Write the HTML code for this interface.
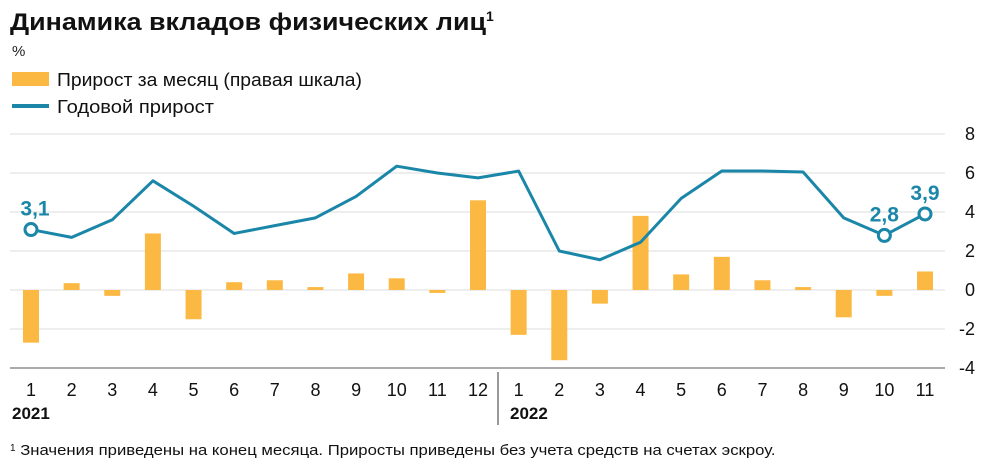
<!DOCTYPE html>
<html><head><meta charset="utf-8"><style>
body{margin:0;background:#fff;font-family:"Liberation Sans",sans-serif;}
svg text{font-family:"Liberation Sans",sans-serif;}
</style></head><body>
<svg width="995" height="463" xmlns="http://www.w3.org/2000/svg">
<text x="10" y="30" font-size="24" font-weight="bold" fill="#111"><tspan textLength="476" lengthAdjust="spacingAndGlyphs">Динамика вкладов физических лиц</tspan><tspan font-size="14" dy="-9">1</tspan></text>
<text x="12" y="56" font-size="15" fill="#222">%</text>
<rect x="12" y="72" width="37" height="14" fill="#fbb943"/>
<text x="57" y="86" font-size="18" fill="#111" textLength="305" lengthAdjust="spacingAndGlyphs">Прирост за месяц (правая шкала)</text>
<rect x="12" y="104" width="37" height="4" fill="#1a86a8"/>
<text x="57" y="113" font-size="18" fill="#111" textLength="157" lengthAdjust="spacingAndGlyphs">Годовой прирост</text>
<g id="grid"></g><g id="bars"></g><g id="line"></g><g id="xaxis"></g>
<line x1="498" y1="372" x2="498" y2="425" stroke="#333" stroke-width="1"/>
<text x="12" y="419" font-size="17" font-weight="bold" fill="#111">2021</text>
<text x="510" y="419" font-size="17" font-weight="bold" fill="#111">2022</text>
<text x="10" y="455" font-size="15" fill="#111"><tspan font-size="10" dy="-4">1</tspan><tspan dy="4" textLength="760" lengthAdjust="spacingAndGlyphs"> Значения приведены на конец месяца. Приросты приведены без учета средств на счетах эскроу.</tspan></text>
</svg>
<script>
const categories=["1","2","3","4","5","6","7","8","9","10","11","12","1","2","3","4","5","6","7","8","9","10","11"];
const monthlyGrowth=[-2.7,0.35,-0.3,2.9,-1.5,0.4,0.5,0.15,0.85,0.6,-0.15,4.6,-2.3,-3.6,-0.7,3.8,0.8,1.7,0.5,0.15,-1.4,-0.3,0.95];
const annualGrowth=[3.1,2.7,3.6,5.6,4.3,2.9,3.3,3.7,4.8,6.35,6.0,5.75,6.1,2.0,1.55,2.45,4.7,6.1,6.1,6.05,3.7,2.8,3.9];
const yTicks=[8,6,4,2,0,-2,-4];
const labeled=[0,21,22];
const NS="http://www.w3.org/2000/svg";
const x=i=>31+i*(925-31)/22;
const y=v=>290-v*19.5;
function mk(tag,attrs,parent){const e=document.createElementNS(NS,tag);for(const k in attrs)e.setAttribute(k,attrs[k]);document.getElementById(parent).appendChild(e);return e;}
yTicks.forEach(t=>{
 const l=mk("line",{x1:10,x2:945,y1:y(t),y2:y(t),stroke:t===-4?"#555":"#ddd","stroke-width":1},"grid");
 
 
 const tx=mk("text",{x:975,y:y(t)+6,"text-anchor":"end","font-size":18,fill:"#111"},"grid");
 tx.textContent=t;
 
 
});
monthlyGrowth.forEach((v,i)=>{
 const r=mk("rect",{x:x(i)-8,width:16,y:Math.min(y(v),y(0)),height:Math.abs(y(v)-y(0)),fill:"#fbb943"},"bars");
 
 
});
const p=mk("polyline",{points:annualGrowth.map((v,i)=>x(i)+","+y(v)).join(" "),fill:"none",stroke:"#1a86a8","stroke-width":3,"stroke-linejoin":"round"},"line");


labeled.forEach(i=>{
 const c=mk("circle",{cx:x(i),cy:y(annualGrowth[i]),r:6,fill:"#fff",stroke:"#1a86a8","stroke-width":3},"line");
 
 
 const t=mk("text",{x:x(i)+(i===0?4:0),y:y(annualGrowth[i])-14,"text-anchor":"middle","font-size":21,"font-weight":"bold",fill:"#1a86a8"},"line");
 t.textContent=annualGrowth[i].toFixed(1).replace(".",",");
 
 
});
categories.forEach((c,i)=>{
 const t=mk("text",{x:x(i),y:396,"text-anchor":"middle","font-size":18,fill:"#111"},"xaxis");
 t.textContent=c;
 
 
});
</script>
</body></html>
